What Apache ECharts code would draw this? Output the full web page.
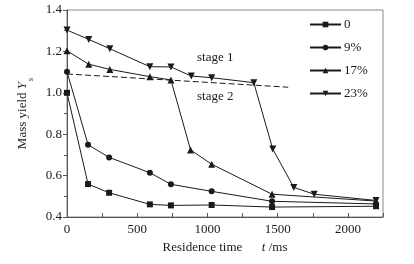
<!DOCTYPE html>
<html>
<head>
<meta charset="utf-8">
<script src="https://cdn.jsdelivr.net/npm/echarts@6/dist/echarts.min.js"></script>
<style>
  html, body { margin: 0; padding: 0; background: #fff; }
  #chart { width: 414px; height: 264px; }
</style>
</head>
<body>
<div id="chart"></div>
<script>
// residence time (ms) and mass yield for each mix
var t0 = [0, 150, 300, 590, 740, 1030, 1460, 2200]
var y0 = [1.0, 0.559, 0.517, 0.461, 0.456, 0.458, 0.448, 0.452]
var t9 = [0, 150, 300, 590, 740, 1030, 1460, 2200]
var y9 = [1.102, 0.749, 0.688, 0.614, 0.558, 0.524, 0.476, 0.463]
var t17 = [0, 155, 305, 590, 740, 880, 1030, 1460, 2200]
var y17 = [1.203, 1.138, 1.113, 1.078, 1.062, 0.724, 0.655, 0.51, 0.477]
var t23 = [0, 155, 305, 590, 740, 885, 1030, 1330, 1465, 1615, 1760, 2200]
var y23 = [1.303, 1.258, 1.213, 1.126, 1.125, 1.081, 1.073, 1.049, 0.728, 0.543, 0.51, 0.48]
var stageLine = [[0, 1.091], [1575, 1.027]]
var names = ['0', '9%', '17%', '23%']

var font = '"Liberation Serif", "Times New Roman", serif'
var ink = '#1a1a1a'

function pairs(xs, ys) {
  return xs.map(function (x, i) { return [x, ys[i]] })
}

var chart = echarts.init(document.getElementById('chart'))

function lineSeries(name, xs, ys, symbol, size, rotate) {
  return {
    name: name,
    type: 'line',
    data: pairs(xs, ys),
    symbol: symbol,
    symbolSize: size,
    symbolRotate: rotate || 0,
    lineStyle: { color: ink, width: 1 },
    itemStyle: { color: ink },
    animation: false
  }
}

chart.setOption({
  textStyle: { fontFamily: font },
  grid: {
    left: 67, right: 31, top: 10, bottom: 47,
    show: true, borderColor: '#888', borderWidth: 1
  },
  legend: {
    orient: 'vertical',
    left: 304,
    top: 13,
    itemWidth: 31,
    itemHeight: 7,
    itemGap: 10,
    data: names,
    textStyle: { fontFamily: font, fontSize: 13, color: ink, padding: [0, 0, 0, -2] }
  },
  xAxis: {
    type: 'value',
    min: 0, max: 2250, interval: 500,
    name: '{a|Residence time}{b|      t}{a| /ms}',
    nameLocation: 'middle',
    nameGap: 23,
    nameTextStyle: {
      rich: {
        a: { fontFamily: font, fontSize: 13, color: ink },
        b: { fontFamily: font, fontSize: 13, color: ink, fontStyle: 'italic' }
      }
    },
    axisLine: { lineStyle: { color: '#555' } },
    axisTick: { inside: true, length: 4, lineStyle: { color: '#555' } },
    minorTick: { show: true, splitNumber: 2, length: 4, lineStyle: { color: '#555' } },
    axisLabel: {
      fontFamily: font, fontSize: 13, color: ink, margin: 6,
      showMaxLabel: false,
      formatter: function (v) { return String(v) }
    },
    splitLine: { show: false }
  },
  yAxis: {
    type: 'value',
    min: 0.4, max: 1.4, interval: 0.2,
    name: '{a|Mass yield }{b|Y}{c|s}',
    nameLocation: 'middle',
    nameGap: 33,
    nameTextStyle: {
      rich: {
        a: { fontFamily: font, fontSize: 13, color: ink },
        b: { fontFamily: font, fontSize: 13, color: ink, fontStyle: 'italic' },
        c: { fontFamily: font, fontSize: 8, color: ink, verticalAlign: 'bottom', padding: [0, 0, -6, 1] }
      }
    },
    axisLine: { show: true, lineStyle: { color: '#555' } },
    axisTick: { show: true, length: 4, lineStyle: { color: '#555' } },
    minorTick: { show: true, splitNumber: 2, length: 3, lineStyle: { color: '#555' } },
    axisLabel: {
      fontFamily: font, fontSize: 13, color: ink, margin: 5,
      formatter: function (v) { return v.toFixed(1) }
    },
    splitLine: { show: false }
  },
  graphic: [
    { type: 'text', left: 197, top: 51, style: { text: 'stage 1', font: '13px "Liberation Serif"', fill: ink } },
    { type: 'text', left: 197, top: 90, style: { text: 'stage 2', font: '13px "Liberation Serif"', fill: ink } }
  ],
  series: [
    lineSeries('0', t0, y0, 'rect', 6),
    lineSeries('9%', t9, y9, 'circle', 6),
    lineSeries('17%', t17, y17, 'triangle', 7),
    lineSeries('23%', t23, y23, 'triangle', 7, 180),
    {
      type: 'line',
      data: stageLine,
      symbol: 'none',
      lineStyle: { color: ink, width: 1, type: [6, 3] },
      silent: true,
      animation: false
    }
  ]
})
</script>
</body>
</html>
